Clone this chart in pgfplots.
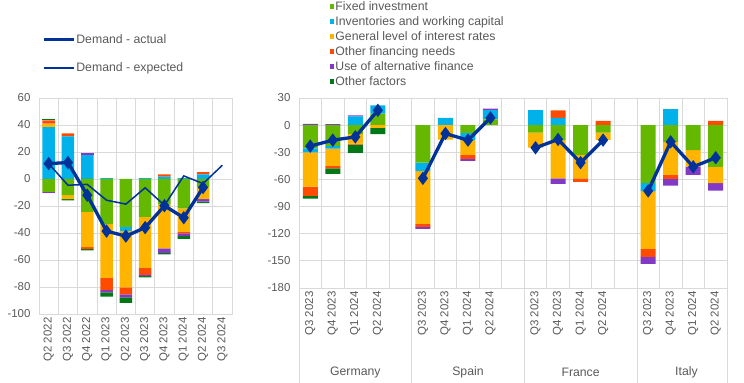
\documentclass[border=0pt]{standalone}
\usepackage{fontspec}
\setmainfont{Liberation Sans}
\usepackage{pgfplots}
\pgfplotsset{compat=1.18}
\usepackage{pgfplotstable}

\definecolor{cGreen}{RGB}{101,184,0}
\definecolor{cCyan}{RGB}{0,177,234}
\definecolor{cYellow}{RGB}{255,180,0}
\definecolor{cRed}{RGB}{255,75,0}
\definecolor{cPurple}{RGB}{129,57,198}
\definecolor{cDkGreen}{RGB}{0,120,22}
\definecolor{txt}{RGB}{89,89,89}
\definecolor{gridc}{RGB}{217,217,217}
\definecolor{lineblue}{RGB}{0,50,153}

% Left chart: euro area
\pgfplotstableread{
x g c y r p d
0 0 38.5 2.5 2.5 0 1.2
1 0 31.6 0 2.2 0 0
2 0 17.7 0 0 1.2 0
3 0 0.6 0 0 0 0
4 0 0 0 0 0 0
5 0 0.6 0 0 0 0
6 0 1.7 0 1.7 0 0
7 0 0.6 0 0 0 0
8 0 3.5 0 1.5 0 0
9 0 0 0 0 0 0
}\leftpos
\pgfplotstableread{
x g c y r p d
0 -9.6 0 0 0 -0.7 0
1 -12 0 -3 0 0 -0.8
2 -24.4 0 -26.1 -1.5 0 -0.8
3 -33.5 0 -39.7 -9.1 -1.7 -3.2
4 -35.5 -3 -41.7 -5.2 -2.2 -4.2
5 -28.1 0 -37.7 -5.2 -1 -0.8
6 -19 0 -32.3 0 -3.5 -1
7 -21.7 0 -17.5 -1 -2.2 -2
8 -6 0 -9 0 -1.7 -1.2
9 0 0 0 0 0 0
}\leftneg
\pgfplotstableread{
x v
0 11.4
1 12.2
2 -12
3 -38.6
4 -42.3
5 -36
6 -19.8
7 -28.7
8 -6.3
}\leftact
\pgfplotstableread{
x v
0 11.4
1 -4.6
2 -4
3 -15.7
4 -18.6
5 -6.5
6 -19.5
7 2.3
8 -3.4
9 10.2
}\leftexp

% Right chart: countries
\pgfplotstableread{
x g c y r p d
0 0 0 0 0 1.3 0
1 0 0 0 0 1.2 0
2 0 9.8 0 0 1.1 0
3 12.7 9.2 0 0 0 0
5 0 0 0 0 0 0
6 0 8 0 0 0 0
7 0 0 0 0 0 0
8 6.5 10 0 0 1.8 0
10 0 16.5 0 0 0 0
11 0 8 0 8.4 0 0
12 0 0 0 0 0 0
13 0 0 0 4.8 0 0
15 0 0 0 0 0 0
16 0 17.6 0 0 0 0
17 0 0 0 0 0 0
18 0 0 0 4.8 0 0
}\rightpos
\pgfplotstableread{
x g c y r p d
0 -25.7 -4.4 -37.8 -10.3 0 -2.9
1 -23 -2.9 -19 -2.9 0 -6.2
2 -10 0 -10.3 -1.1 0 -9.2
3 0 0 -3 0 0 -7
5 -41.5 -9.2 -58.4 -3.3 -2.2 0
6 0 0 -16 0 0 0
7 -8.5 -8 -16.5 -4.4 -2.2 0
8 0 0 0 0 0 0
10 -8.4 0 -16.5 0 0 0
11 -16.5 0 -42.2 0 -6.2 0
12 -33 0 -25.7 -4 0 0
13 -8.4 0 -8 0 0 0
15 -64 -8.8 -64 -8.8 -7.7 0
16 -18.4 0 -36.7 -4.4 -7.3 0
17 -27.5 0 -18.4 0 -9.2 0
18 -46 0 -18 0 -8.4 0
}\rightneg
\pgfplotstableread{
x v
0 -23.2
1 -16.6
2 -13
3 16.4
}\actDE
\pgfplotstableread{
x v
5 -58.8
6 -9.3
7 -16.6
8 8
}\actES
\pgfplotstableread{
x v
10 -25
11 -15.8
12 -41.5
13 -16.5
}\actFR
\pgfplotstableread{
x v
15 -72.7
16 -18.4
17 -46
18 -36
}\actIT

\newcommand{\tfont}{\fontsize{11.5}{13}\selectfont}

\pgfplotsset{
  base/.style={scale only axis, anchor=south west,
    /pgf/number format/assume math mode=true,
    tick label style={font=\tfont, text=txt},
    yticklabel style={xshift=-5bp},
    major tick length=0pt, minor tick length=0pt,
    axis line style={gridc, line width=0.75bp},
    grid style={gridc, line width=0.75bp}},
  overlay/.style={base, axis lines=none, xtick=\empty, ytick=\empty},
  barsty/.style={ybar stacked, bar width=#1},
}

\begin{document}
\begin{tikzpicture}
\useasboundingbox (0,0) rectangle (744bp,383bp);

% ---------- LEFT CHART ----------
\begin{axis}[base, barsty=12.5bp, at={(39bp,69bp)}, width=193bp, height=216bp,
  xmin=-0.5, xmax=9.5, ymin=-100, ymax=60, ytick={-100,-80,...,60},
  xtick={0,...,9},
  xticklabels={Q2 2022,Q3 2022,Q4 2022,Q1 2023,Q2 2023,Q3 2023,Q4 2023,Q1 2024,Q2 2024,Q3 2024},
  x tick label style={rotate=90, anchor=east},
  minor xtick={-0.5,0.5,...,9.5}, ymajorgrids, xminorgrids]
\addplot[fill=cGreen, draw=none] table[x=x,y=g]{\leftpos};
\addplot[fill=cCyan, draw=none] table[x=x,y=c]{\leftpos};
\addplot[fill=cYellow, draw=none] table[x=x,y=y]{\leftpos};
\addplot[fill=cRed, draw=none] table[x=x,y=r]{\leftpos};
\addplot[fill=cPurple, draw=none] table[x=x,y=p]{\leftpos};
\addplot[fill=cDkGreen, draw=none] table[x=x,y=d]{\leftpos};
\end{axis}
\begin{axis}[overlay, barsty=12.5bp, at={(39bp,69bp)}, width=193bp, height=216bp,
  xmin=-0.5, xmax=9.5, ymin=-100, ymax=60]
\addplot[fill=cGreen, draw=none] table[x=x,y=g]{\leftneg};
\addplot[fill=cCyan, draw=none] table[x=x,y=c]{\leftneg};
\addplot[fill=cYellow, draw=none] table[x=x,y=y]{\leftneg};
\addplot[fill=cRed, draw=none] table[x=x,y=r]{\leftneg};
\addplot[fill=cPurple, draw=none] table[x=x,y=p]{\leftneg};
\addplot[fill=cDkGreen, draw=none] table[x=x,y=d]{\leftneg};
\end{axis}
\begin{axis}[overlay, at={(39bp,69bp)}, width=193bp, height=216bp,
  xmin=-0.5, xmax=9.5, ymin=-100, ymax=60, clip=false,
  legend image code/.code={\draw[#1, mark=none] (0bp,0bp) -- (30bp,0bp);},
  legend style={at={(axis description cs:0.015,1.30)}, anchor=north west,
    draw=none, fill=none, font=\fontsize{12.3}{14}\selectfont, text=txt,
    row sep=16bp, inner sep=0pt, nodes={inner sep=1bp}},
  legend cell align=left]
\addplot[lineblue, line width=3.3bp, mark=diamond*, mark size=4bp] table[x=x,y=v]{\leftact};
\addlegendentry{Demand - actual}
\addplot[lineblue, line width=1.5bp, mark=none] table[x=x,y=v]{\leftexp};
\addlegendentry{Demand - expected}
\end{axis}

% ---------- RIGHT CHART ----------
\begin{axis}[base, barsty=15bp, at={(299bp,95bp)}, width=428bp, height=190bp,
  xmin=-0.5, xmax=18.5, ymin=-180, ymax=30, ytick={-180,-150,...,30},
  xtick={0,1,2,3,5,6,7,8,10,11,12,13,15,16,17,18},
  xticklabels={Q3 2023,Q4 2023,Q1 2024,Q2 2024,Q3 2023,Q4 2023,Q1 2024,Q2 2024,Q3 2023,Q4 2023,Q1 2024,Q2 2024,Q3 2023,Q4 2023,Q1 2024,Q2 2024},
  x tick label style={rotate=90, anchor=east},
  minor xtick={-0.5,0.5,...,18.5}, ymajorgrids, xminorgrids, clip=false,
  legend image code/.code={\fill[#1] (0bp,-2.2bp) rectangle (4.4bp,2.2bp);},
  legend style={at={(axis description cs:0.072,1.515)}, anchor=north west,
    draw=none, fill=none, font=\fontsize{12.3}{14}\selectfont, text=txt,
    row sep=2.6bp, inner sep=0pt, nodes={inner sep=1bp}},
  legend cell align=left]
\addplot[fill=cGreen, draw=none] table[x=x,y=g]{\rightpos};
\addlegendentry{Fixed investment}
\addplot[fill=cCyan, draw=none] table[x=x,y=c]{\rightpos};
\addlegendentry{Inventories and working capital}
\addplot[fill=cYellow, draw=none] table[x=x,y=y]{\rightpos};
\addlegendentry{General level of interest rates}
\addplot[fill=cRed, draw=none] table[x=x,y=r]{\rightpos};
\addlegendentry{Other financing needs}
\addplot[fill=cPurple, draw=none] table[x=x,y=p]{\rightpos};
\addlegendentry{Use of alternative finance}
\addplot[fill=cDkGreen, draw=none] table[x=x,y=d]{\rightpos};
\addlegendentry{Other factors}
\pgfplotsinvokeforeach{-0.5,4.5,9.5,14.5,18.5}{
  \draw[gridc, line width=0.75bp] (axis cs:#1,-180) -- ([yshift=-95bp]axis cs:#1,-180);
}
\node[font=\fontsize{12.3}{14}\selectfont, text=txt] at (axis cs:2,-180) [yshift=-84bp] {Germany};
\node[font=\fontsize{12.3}{14}\selectfont, text=txt] at (axis cs:7,-180) [yshift=-84bp] {Spain};
\node[font=\fontsize{12.3}{14}\selectfont, text=txt] at (axis cs:12,-180) [yshift=-84bp] {France};
\node[font=\fontsize{12.3}{14}\selectfont, text=txt] at (axis cs:16.7,-180) [yshift=-84bp] {Italy};
\end{axis}
\begin{axis}[overlay, barsty=15bp, at={(299bp,95bp)}, width=428bp, height=190bp,
  xmin=-0.5, xmax=18.5, ymin=-180, ymax=30]
\addplot[fill=cGreen, draw=none] table[x=x,y=g]{\rightneg};
\addplot[fill=cCyan, draw=none] table[x=x,y=c]{\rightneg};
\addplot[fill=cYellow, draw=none] table[x=x,y=y]{\rightneg};
\addplot[fill=cRed, draw=none] table[x=x,y=r]{\rightneg};
\addplot[fill=cPurple, draw=none] table[x=x,y=p]{\rightneg};
\addplot[fill=cDkGreen, draw=none] table[x=x,y=d]{\rightneg};
\end{axis}
\begin{axis}[overlay, at={(299bp,95bp)}, width=428bp, height=190bp,
  xmin=-0.5, xmax=18.5, ymin=-180, ymax=30, clip=false]
\addplot[lineblue, line width=3.3bp, mark=diamond*, mark size=4bp] table[x=x,y=v]{\actDE};
\addplot[lineblue, line width=3.3bp, mark=diamond*, mark size=4bp] table[x=x,y=v]{\actES};
\addplot[lineblue, line width=3.3bp, mark=diamond*, mark size=4bp] table[x=x,y=v]{\actFR};
\addplot[lineblue, line width=3.3bp, mark=diamond*, mark size=4bp] table[x=x,y=v]{\actIT};
\end{axis}
\end{tikzpicture}
\end{document}
